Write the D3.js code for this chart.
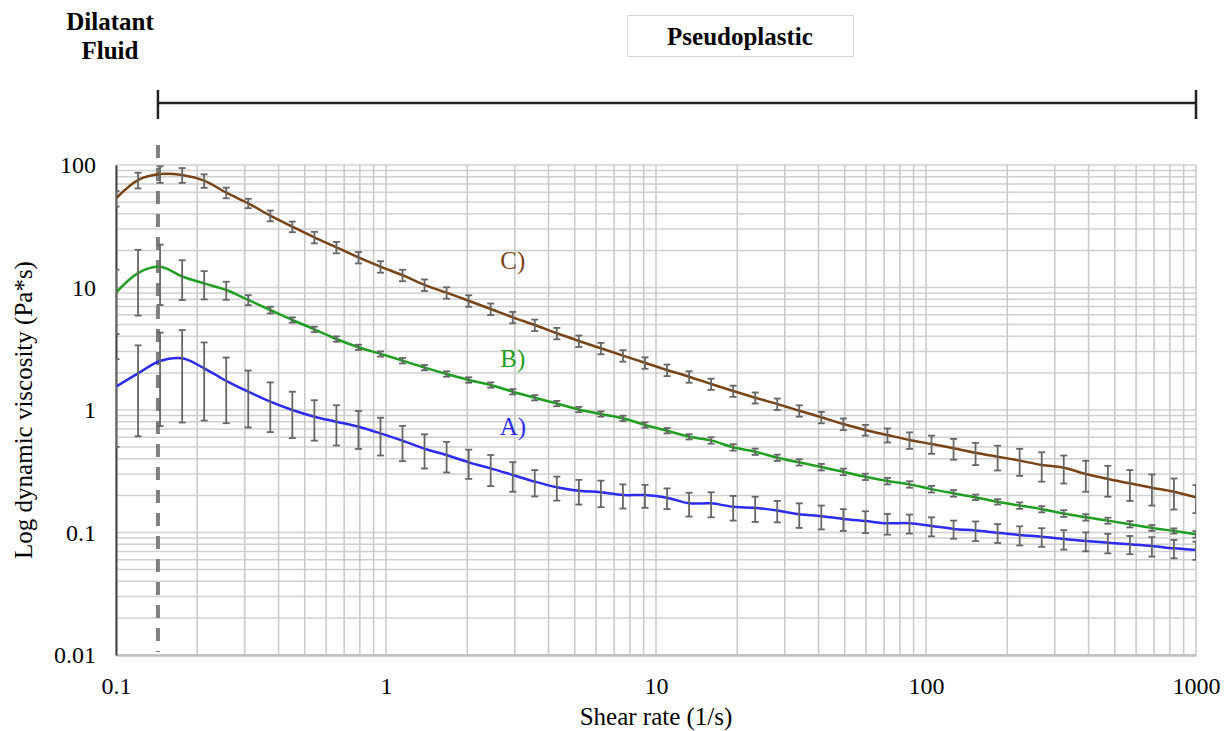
<!DOCTYPE html>
<html>
<head>
<meta charset="utf-8">
<script src="https://cdn.jsdelivr.net/npm/d3@7"></script>
<style>
  body { margin: 0; background: #fff; }
  text { font-family: "Liberation Serif", "Times New Roman", serif; fill: #000; }
</style>
</head>
<body>
<svg width="1225" height="731"></svg>
<script>
// shear rate (1/s), 50 log-spaced measuring points
const shearRate = [0.1, 0.1207, 0.1456, 0.1758, 0.2121, 0.256, 0.3089, 0.3728, 0.4498, 0.5429,
  0.6551, 0.7906, 0.9541, 1.151, 1.389, 1.677, 2.024, 2.442, 2.947, 3.556,
  4.292, 5.179, 6.251, 7.543, 9.103, 10.99, 13.26, 16.0, 19.31, 23.3,
  28.12, 33.93, 40.95, 49.42, 59.64, 71.97, 86.85, 104.8, 126.5, 152.6,
  184.2, 222.3, 268.3, 323.7, 390.7, 471.5, 569.0, 686.6, 828.6, 1000];

// dynamic viscosity (Pa*s) and standard deviation per sample
const viscA = [1.55, 1.99, 2.51, 2.64, 2.19, 1.73, 1.41, 1.17, 1.00, 0.882,
  0.803, 0.731, 0.645, 0.562, 0.483, 0.429, 0.374, 0.334, 0.295, 0.260,
  0.234, 0.219, 0.213, 0.202, 0.202, 0.192, 0.173, 0.173, 0.162, 0.159,
  0.151, 0.141, 0.136, 0.129, 0.124, 0.119, 0.119, 0.113, 0.107, 0.104,
  0.0996, 0.0954, 0.0924, 0.0885, 0.0852, 0.0825, 0.0801, 0.0776, 0.0743, 0.0720];
const sdA = [1.05, 1.38, 1.77, 1.85, 1.37, 0.95, 0.69, 0.51, 0.41, 0.32,
  0.29, 0.25, 0.22, 0.18, 0.15, 0.12, 0.10, 0.095, 0.080, 0.063,
  0.052, 0.050, 0.052, 0.045, 0.043, 0.037, 0.038, 0.040, 0.037, 0.037,
  0.030, 0.032, 0.030, 0.026, 0.025, 0.023, 0.021, 0.020, 0.018, 0.019,
  0.0175, 0.017, 0.016, 0.016, 0.015, 0.015, 0.0136, 0.014, 0.0127, 0.0122];

const viscB = [9.07, 13.1, 14.8, 12.3, 10.8, 9.54, 7.91, 6.55, 5.43, 4.56,
  3.80, 3.25, 2.87, 2.53, 2.22, 1.97, 1.76, 1.60, 1.41, 1.26,
  1.13, 1.01, 0.928, 0.855, 0.755, 0.678, 0.605, 0.565, 0.496, 0.457,
  0.408, 0.374, 0.342, 0.313, 0.285, 0.263, 0.247, 0.226, 0.209, 0.194,
  0.178, 0.166, 0.155, 0.143, 0.133, 0.125, 0.117, 0.109, 0.103, 0.0967];
const sdB = [4.9, 7.2, 7.6, 4.4, 2.8, 1.6, 0.74, 0.41, 0.27, 0.23,
  0.19, 0.16, 0.14, 0.13, 0.11, 0.10, 0.09, 0.08, 0.07, 0.063,
  0.057, 0.05, 0.046, 0.043, 0.038, 0.034, 0.03, 0.034, 0.030, 0.027,
  0.024, 0.022, 0.021, 0.019, 0.017, 0.016, 0.015, 0.014, 0.013, 0.010,
  0.009, 0.010, 0.009, 0.009, 0.008, 0.007, 0.007, 0.006, 0.005, 0.006];

const viscC = [53.5, 75.4, 84.4, 82.9, 74.5, 59.4, 48.7, 38.6, 31.4, 25.7,
  21.3, 17.6, 14.8, 12.6, 10.5, 9.07, 7.80, 6.68, 5.71, 4.94,
  4.23, 3.66, 3.19, 2.78, 2.43, 2.12, 1.87, 1.63, 1.43, 1.26,
  1.12, 0.987, 0.872, 0.769, 0.687, 0.625, 0.569, 0.528, 0.487, 0.447,
  0.416, 0.386, 0.356, 0.338, 0.300, 0.273, 0.252, 0.232, 0.215, 0.194];
const sdC = [7.8, 11, 13, 11.5, 9.4, 5.9, 4.3, 3.9, 3.1, 2.75,
  2.28, 1.89, 1.59, 1.35, 1.13, 0.97, 0.84, 0.72, 0.61, 0.53,
  0.45, 0.39, 0.34, 0.30, 0.26, 0.23, 0.20, 0.17, 0.15, 0.13,
  0.12, 0.105, 0.093, 0.084, 0.069, 0.082, 0.088, 0.089, 0.094, 0.092,
  0.095, 0.096, 0.096, 0.087, 0.085, 0.077, 0.071, 0.066, 0.061, 0.050];

const seriesNames = ['A)', 'B)', 'C)'];
const xTicks = [0.1, 1, 10, 100, 1000];
const xTickLabels = ['0.1', '1', '10', '100', '1000'];
const yTicks = [0.01, 0.1, 1, 10, 100];
const yTickLabels = ['0.01', '0.1', '1', '10', '100'];
const transitionRate = 0.143;   // dilatant -> pseudoplastic

(function() {
  let svg = d3.select('svg');
  let left = 116, right = 1196, top = 165, bottom = 655;

  let x = d3.scaleLog().domain([0.1, 1000]).range([left, right]);
  let y = d3.scaleLog().domain([0.01, 100]).range([bottom, top]);

  let colors = { 'A)': '#2b2bf2', 'B)': '#1f9e22', 'C)': '#7a4315' };
  let labelPos = { 'A)': [2.95, 0.62], 'B)': [2.95, 2.25], 'C)': [2.95, 14.2] };

  let series = [
    { name: 'A)', v: viscA, sd: sdA },
    { name: 'B)', v: viscB, sd: sdB },
    { name: 'C)', v: viscC, sd: sdC }
  ].map(function(s) {
    s.points = shearRate.map(function(r, i) {
      return { x: r, v: s.v[i], sd: s.sd[i] };
    });
    return s;
  });

  svg.append('defs').append('clipPath').attr('id', 'plot')
    .append('rect')
    .attr('x', left).attr('y', top - 10)
    .attr('width', right - left).attr('height', bottom - top + 10);

  // grid
  let minorX = d3.range(-1, 3).flatMap(function(e) {
    return d3.range(2, 10).map(function(k) { return k * Math.pow(10, e); });
  });
  let minorY = d3.range(-2, 2).flatMap(function(e) {
    return d3.range(2, 10).map(function(k) { return k * Math.pow(10, e); });
  });

  let grid = svg.append('g').attr('class', 'grid');
  grid.selectAll('line.hy')
    .data(minorY.concat(yTicks))
    .enter().append('line')
    .attr('x1', left).attr('x2', right)
    .attr('y1', function(d) { return y(d); })
    .attr('y2', function(d) { return y(d); })
    .attr('stroke', '#d0d0d0')
    .attr('stroke-width', 1.5);
  grid.selectAll('line.vx')
    .data(minorX.concat(xTicks))
    .enter().append('line')
    .attr('y1', top).attr('y2', bottom)
    .attr('x1', function(d) { return x(d); })
    .attr('x2', function(d) { return x(d); })
    .attr('stroke', '#c8c8c8')
    .attr('stroke-width', 1.5);

  // axes
  let xAxis = svg.append('g')
    .attr('transform', 'translate(0,' + bottom + ')')
    .call(d3.axisBottom(x).tickValues(xTicks)
      .tickFormat(function(d, i) { return xTickLabels[i]; })
      .tickSize(0).tickPadding(22));
  xAxis.select('.domain').attr('stroke', '#bfbfbf').attr('stroke-width', 2.5);

  let yAxis = svg.append('g')
    .attr('transform', 'translate(' + left + ',0)')
    .call(d3.axisLeft(y).tickValues(yTicks)
      .tickFormat(function(d, i) { return yTickLabels[i]; })
      .tickSize(0).tickPadding(20));
  yAxis.select('.domain').attr('stroke', '#404040').attr('stroke-width', 2);

  svg.selectAll('.tick text')
    .attr('font-family', '"Liberation Serif", "Times New Roman", serif')
    .attr('font-size', 24)
    .attr('fill', '#000');

  // transition marker
  svg.append('line')
    .attr('x1', x(transitionRate)).attr('x2', x(transitionRate))
    .attr('y1', 145).attr('y2', 652)
    .attr('stroke', '#7f7f7f')
    .attr('stroke-width', 4)
    .attr('stroke-dasharray', '13,10');

  let plot = svg.append('g').attr('clip-path', 'url(#plot)');

  let line = d3.line()
    .x(function(d) { return x(d.x); })
    .y(function(d) { return y(d.v); })
    .curve(d3.curveCatmullRom);

  plot.selectAll('path.series')
    .data(series)
    .enter().append('path')
    .attr('class', 'series')
    .attr('d', function(d) { return line(d.points); })
    .attr('fill', 'none')
    .attr('stroke', function(d) { return colors[d.name]; })
    .attr('stroke-width', 2.5);

  // error bars
  let bars = plot.selectAll('g.err')
    .data(series)
    .enter().append('g')
    .attr('class', 'err')
    .selectAll('g')
    .data(function(d) { return d.points; })
    .enter().append('g')
    .attr('stroke', '#666')
    .attr('stroke-width', 1.8);

  bars.append('line')
    .attr('x1', function(d) { return x(d.x); })
    .attr('x2', function(d) { return x(d.x); })
    .attr('y1', function(d) { return y(d.v + d.sd); })
    .attr('y2', function(d) { return y(d.v - d.sd); });
  bars.append('line')
    .attr('x1', function(d) { return x(d.x) - 3.5; })
    .attr('x2', function(d) { return x(d.x) + 3.5; })
    .attr('y1', function(d) { return y(d.v + d.sd); })
    .attr('y2', function(d) { return y(d.v + d.sd); });
  bars.append('line')
    .attr('x1', function(d) { return x(d.x) - 3.5; })
    .attr('x2', function(d) { return x(d.x) + 3.5; })
    .attr('y1', function(d) { return y(d.v - d.sd); })
    .attr('y2', function(d) { return y(d.v - d.sd); });

  // series labels
  svg.selectAll('text.lab')
    .data(seriesNames)
    .enter().append('text')
    .attr('class', 'lab')
    .attr('x', function(d) { return x(labelPos[d][0]); })
    .attr('y', function(d) { return y(labelPos[d][1]); })
    .attr('text-anchor', 'middle')
    .attr('font-size', 25)
    .style('fill', function(d) { return colors[d]; })
    .text(function(d) { return d; });

  // axis titles
  svg.append('text')
    .attr('x', (left + right) / 2).attr('y', 725)
    .attr('text-anchor', 'middle')
    .attr('font-size', 25)
    .text('Shear rate (1/s)');
  svg.append('text')
    .attr('transform', 'translate(32,' + 410 + ') rotate(-90)')
    .attr('text-anchor', 'middle')
    .attr('font-size', 25)
    .text('Log dynamic viscosity (Pa*s)');

  // regime annotations
  let bx = x(transitionRate);
  svg.append('line')
    .attr('x1', bx).attr('x2', right)
    .attr('y1', 103).attr('y2', 103)
    .attr('stroke', '#222').attr('stroke-width', 2.5);
  [bx, right].forEach(function(px) {
    svg.append('line')
      .attr('x1', px).attr('x2', px)
      .attr('y1', 90).attr('y2', 119)
      .attr('stroke', '#222').attr('stroke-width', 2.5);
  });

  svg.append('text')
    .attr('x', 110).attr('y', 30)
    .attr('text-anchor', 'middle')
    .attr('font-size', 25).attr('font-weight', 'bold')
    .text('Dilatant');
  svg.append('text')
    .attr('x', 110).attr('y', 59)
    .attr('text-anchor', 'middle')
    .attr('font-size', 25).attr('font-weight', 'bold')
    .text('Fluid');

  svg.append('rect')
    .attr('x', 627.5).attr('y', 15.5)
    .attr('width', 226).attr('height', 41)
    .attr('fill', '#fff')
    .attr('stroke', '#d9d9d9');
  svg.append('text')
    .attr('x', 740).attr('y', 45)
    .attr('text-anchor', 'middle')
    .attr('font-size', 25).attr('font-weight', 'bold')
    .text('Pseudoplastic');
})();
</script>
</body>
</html>
